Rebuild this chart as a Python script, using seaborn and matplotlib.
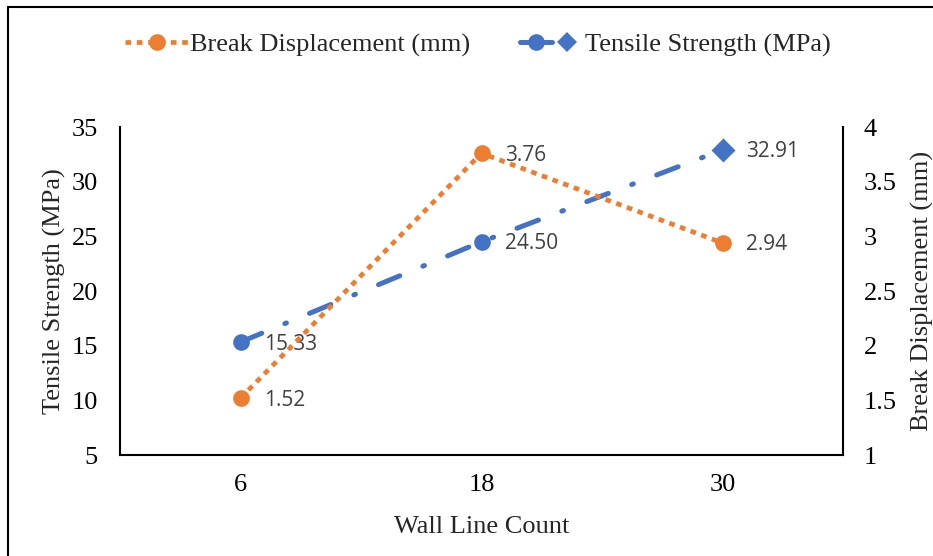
import matplotlib
matplotlib.use("Agg")
import matplotlib.pyplot as plt
import seaborn as sns
import numpy as np
from matplotlib.lines import Line2D
from matplotlib.legend_handler import HandlerTuple

categories = ["6", "18", "30"]
tensile = [15.33, 24.50, 32.91]
displacement = [1.52, 3.76, 2.94]
tensile_labels = ["15.33", "24.50", "32.91"]
disp_labels = ["1.52", "3.76", "2.94"]

sns.set_style("white")
plt.rcParams['font.family'] = ['Liberation Serif', 'DejaVu Serif']

BLUE = "#4472C4"
ORANGE = "#ED7D31"
LABEL_COLOR = "#404040"
FS = 19

W, H = 933, 556
fig = plt.figure(figsize=(W / 100, H / 100), dpi=100)
ax = fig.add_axes([120 / W, 1 - 455 / H, (843 - 120) / W, (455 - 127) / H])
ax2 = ax.twinx()

xpos = np.arange(len(categories))

# Tensile strength (left axis)
blue_dash = (0, (4.6, 5.0, 0.35, 5.0))
sns.lineplot(x=xpos, y=tensile, ax=ax, color=BLUE, lw=3.6, linestyle=blue_dash,
             marker="o", markersize=12, markevery=[0, 1], markeredgewidth=0,
             dash_capstyle="round", zorder=3)
sns.scatterplot(x=xpos[-1:], y=tensile[-1:], ax=ax, color=BLUE, marker="D", s=150,
                linewidth=0, zorder=4)

# Break displacement (right axis)
orange_dot = (0, (1.2, 1.2))
sns.lineplot(x=xpos, y=displacement, ax=ax2, color=ORANGE, lw=3.4, linestyle=orange_dot,
             marker="o", markersize=12, markeredgewidth=0, zorder=3)

label_font = dict(family=['Open Sans', 'DejaVu Sans'], fontsize=15, color=LABEL_COLOR)
for x, y, t in zip(xpos, tensile, tensile_labels):
    ax.annotate(t, (x, y), xytext=(17, -1.5), textcoords="offset points",
                ha="left", va="center", **label_font)
for x, y, t in zip(xpos, displacement, disp_labels):
    ax2.annotate(t, (x, y), xytext=(17, -1.5), textcoords="offset points",
                 ha="left", va="center", **label_font)

ax.set_xlim(-0.5, 2.5)
ax.set_ylim(5, 35)
ax.set_yticks(np.arange(5, 36, 5))
ax2.set_ylim(1, 4)
ax2.set_yticks(np.arange(1, 4.01, 0.5))
ax2.set_yticklabels(["1", "1.5", "2", "2.5", "3", "3.5", "4"])
ax.set_xticks(xpos)
ax.set_xticklabels(categories)

for a in (ax, ax2):
    a.tick_params(length=0, labelsize=FS, colors="black")
    a.grid(False)
    for s in a.spines.values():
        s.set_visible(False)
ax.tick_params(axis="y", pad=16)
ax.tick_params(axis="x", pad=14)
ax2.tick_params(axis="y", pad=15)
ax.spines["left"].set_visible(True)
ax.spines["bottom"].set_visible(True)
ax2.spines["right"].set_visible(True)
for s in (ax.spines["left"], ax.spines["bottom"], ax2.spines["right"]):
    s.set_color("black")
    s.set_linewidth(1.5)

ax.set_ylabel("Tensile Strength (MPa)", fontsize=FS, labelpad=4)
ax2.set_ylabel("Break Displacement (mm)", fontsize=FS, labelpad=10)
ax.set_xlabel("Wall Line Count", fontsize=FS, labelpad=14)

# Legend
h_orange = Line2D([], [], color=ORANGE, lw=3.4, linestyle=orange_dot, marker="o",
                  markersize=12, markeredgewidth=0)
h_blue = Line2D([], [], color=BLUE, lw=3.6, linestyle="-", marker="o",
                markersize=12, markeredgewidth=0, solid_capstyle="round")
h_diam = Line2D([], [], color=BLUE, lw=0, marker="D", markersize=10, markeredgewidth=0)
fig.legend([h_orange, (h_blue, h_diam)],
           ["Break Displacement (mm)", "Tensile Strength (MPa)"],
           handler_map={tuple: HandlerTuple(ndivide=None, pad=0.0)},
           loc="center", bbox_to_anchor=(0.512, 1 - 45 / H), ncol=2, frameon=False,
           fontsize=FS, columnspacing=1.9, handlelength=2.4, handletextpad=0.05)

# Figure border (top and left edges)
fig.add_artist(Line2D([8 / W, 1], [1 - 7 / H, 1 - 7 / H], color="black", lw=1.5,
                      transform=fig.transFigure))
fig.add_artist(Line2D([8 / W, 8 / W], [0, 1 - 7 / H], color="black", lw=1.5,
                      transform=fig.transFigure))

fig.savefig("out.png", dpi=100)
